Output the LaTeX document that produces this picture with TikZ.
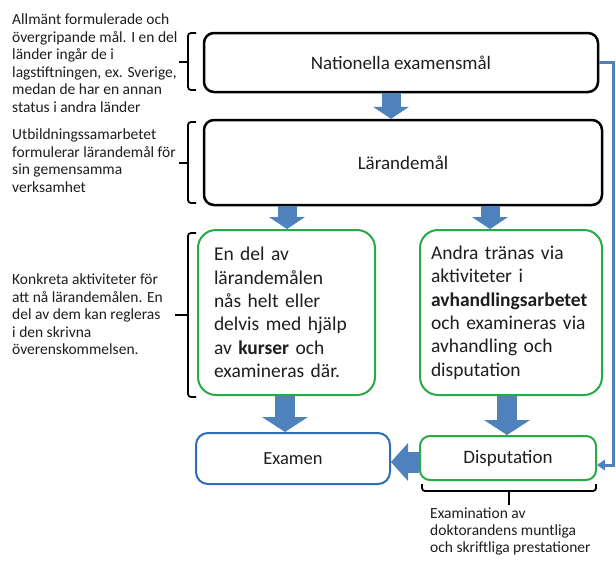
\documentclass[tikz,border=0pt]{standalone}
\usepackage{fontspec}
\setmainfont{Carlito}
\usetikzlibrary{arrows.meta,calc}
\definecolor{barrow}{RGB}{79,129,189}
\definecolor{bline}{RGB}{47,109,181}
\definecolor{gline}{RGB}{40,170,70}
\definecolor{txt}{RGB}{30,30,30}
\begin{document}
\begin{tikzpicture}[x=1pt,y=-1pt,
  every node/.style={text=txt},
  blackbox/.style={draw=black, line width=2.5pt, rounded corners=10pt, fill=white,
    font=\fontsize{19}{22}\selectfont},
  greenbox/.style={draw=gline, line width=2pt, rounded corners=18pt, fill=white,
    font=\fontsize{19.5}{23.4}\selectfont, align=left, inner ysep=0pt},
  bluebox/.style={draw=bline, line width=2pt, rounded corners=12pt, fill=white,
    font=\fontsize{18.5}{21}\selectfont},
  gbox/.style={draw=gline, line width=2pt, rounded corners=10pt, fill=white,
    font=\fontsize{19}{21}\selectfont},
  note/.style={font=\fontsize{15.5}{17.5}\selectfont, align=left, inner sep=0pt},
  smallarrow/.style={draw=barrow, line width=19pt, -{Triangle[width=36pt,length=12pt,line width=0pt]}},
  bigarrow/.style={draw=barrow, line width=20pt, -{Triangle[width=46pt,length=15pt,line width=0pt]}},
  conn/.style={draw=barrow, line width=3pt, -{Triangle[width=11pt,length=8pt,line width=0pt]}},
  brk/.style={draw=black, line width=1.8pt, rounded corners=3pt},
  tick/.style={draw=black, line width=1.8pt}
]
\useasboundingbox[fill=white] (0,0) rectangle (616,560);

% main boxes
\node[blackbox, minimum width=394pt, minimum height=59pt] (nat) at (401,62.5) {Nationella examensmål};
\node[blackbox, minimum width=398pt, minimum height=85pt] (lar) at (403,162.5) {Lärandemål};
\node[greenbox, text width=145pt, inner xsep=16pt, minimum height=165pt] (kurs) at (286.5,312.5)
  {En del av\\lärandemålen\\nås helt eller\\delvis med hjälp\\av \textbf{kurser} och\\examineras där.};
\node[greenbox, text width=160pt, inner xsep=11pt, minimum height=165pt] (avh) at (511,312.5)
  {Andra tränas via\\aktiviteter i\\\textbf{avhandlingsarbetet}\\och examineras via\\avhandling och\\disputation};
\node[bluebox, minimum width=194pt, minimum height=51pt] (exa) at (293,458.5) {Examen};
\node[gbox, minimum width=176pt, minimum height=44pt] (dis) at (508,458) {Disputation};

% block arrows
\draw[smallarrow] ($(nat.south)+(-10,0)$) -- ($(lar.north)+(-12,0)$);
\draw[smallarrow] ($(lar.south)+(-116,0)$) -- ($(kurs.north)+(0.5,0)$);
\draw[smallarrow] ($(lar.south)+(87,0)$) -- ($(avh.north)+(-21,0)$);
\draw[bigarrow] ($(kurs.south)+(-1.5,0)$) -- ($(exa.north)+(-8,0)$);
\draw[bigarrow] ($(avh.south)+(-4,0)$) -- ($(dis.north)+(-1,0)$);
\draw[draw=barrow, line width=21pt, -{Triangle[width=38pt,length=17pt,line width=0pt]}]
  ($(dis.west)+(0,4)$) -- ($(exa.east)+(0,3.5)$);

% right connector
\draw[conn] (nat.east) -- ++(14,0) |- ($(dis.east)+(0,7)$);

% left braces
\draw[brk] (196,33) -- (188,33) -- (188,90) -- (196,90);
\draw[tick] (188,62) -- (179,62);
\draw[brk] (196,122) -- (188,122) -- (188,203) -- (196,203);
\draw[tick] (188,163) -- (179,163);
\draw[brk] (196,233) -- (188,233) -- (188,397) -- (196,397);
\draw[tick] (188,315) -- (175,315);
% bottom brace
\draw[brk] (422,484) -- (422,491) -- (596,491) -- (596,484);
\draw[tick] (509,491) -- (509,505);

% notes
\node[note, anchor=north west] (t1) at (12,14)
  {Allmänt formulerade och\\övergripande mål. I en del\\länder ingår de i\\lagstiftningen, ex. Sverige,\\medan de har en annan\\status i andra länder};
\node[note, anchor=north west] (t2) at (12,129)
  {Utbildningssamarbetet\\formulerar lärandemål för\\sin gemensamma\\verksamhet};
\node[note, anchor=north west] (t3) at (12,274)
  {Konkreta aktiviteter för\\att nå lärandemålen. En\\del av dem kan regleras\\i den skrivna\\överenskommelsen.};
\node[note, anchor=north west, font=\fontsize{15.5}{17}\selectfont] (t4) at (430,508)
  {Examination av\\doktorandens muntliga\\och skriftliga prestationer};
\end{tikzpicture}
\end{document}
